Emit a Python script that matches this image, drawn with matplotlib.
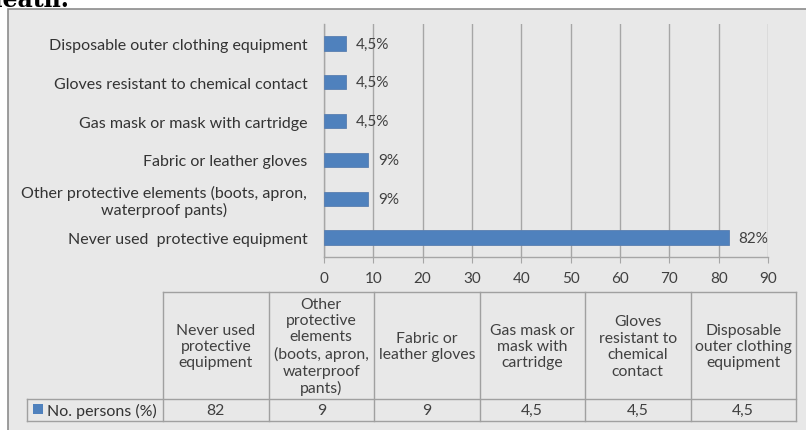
import matplotlib
matplotlib.use("Agg")
import matplotlib.pyplot as plt
from matplotlib.patches import Rectangle
from matplotlib.lines import Line2D

plt.rcParams['font.family'] = ['Lato', 'DejaVu Sans']

# ---- data ----
categories = ["Never used  protective equipment",
              "Other protective elements (boots, apron,\nwaterproof pants)",
              "Fabric or leather gloves",
              "Gas mask or mask with cartridge",
              "Gloves resistant to chemical contact",
              "Disposable outer clothing equipment"]
table_headers = ["Never used\nprotective\nequipment",
                 "Other\nprotective\nelements\n(boots, apron,\nwaterproof\npants)",
                 "Fabric or\nleather gloves",
                 "Gas mask or\nmask with\ncartridge",
                 "Gloves\nresistant to\nchemical\ncontact",
                 "Disposable\nouter clothing\nequipment"]
values = [82, 9, 9, 4.5, 4.5, 4.5]
series_name = "No. persons (%)"
x_ticks = [0, 10, 20, 30, 40, 50, 60, 70, 80, 90]

BAR = "#4f81bd"
BG = "#e8e8e8"
GRID = "#a6a6a6"
TXT = "#404040"
W, H = 806, 431

def fmt(v):
    return ("%g" % v).replace(".", ",")

fig = plt.figure(figsize=(W / 100, H / 100), dpi=100)
fig.patch.set_facecolor("white")

def fx(px):
    return px / W

def fy(py):
    return 1 - py / H

# chart frame
fig.patches.append(Rectangle((fx(8), fy(440)), fx(820) - fx(8), fy(10) - fy(440),
                             transform=fig.transFigure, facecolor=BG,
                             edgecolor="#8c8c8c", linewidth=1.2, zorder=-5))
# cropped caption text from page above
fig.text(fx(-14), fy(0), "death.", family="DejaVu Serif", fontsize=17,
         fontweight="bold", va="center", ha="left", color="black", zorder=-4)

# ---- bar axes ----
ax = fig.add_axes([fx(324), fy(258), fx(768) - fx(324), fy(25) - fy(258)])
ax.set_zorder(2)
ax.set_facecolor(BG)
ypos = list(range(len(categories)))
ax.barh(ypos, values, height=0.37, color=BAR, edgecolor="#5a7fb0", linewidth=0.6, zorder=3)
for y, v in zip(ypos, values):
    ax.text(v + 2.0, y, fmt(v) + "%", va="center", ha="left", fontsize=11, color=TXT, zorder=4)
ax.set_xlim(0, 90)
ax.set_ylim(-0.5, len(categories) - 0.5)
ax.set_xticks(x_ticks)
ax.set_xticklabels([str(t) for t in x_ticks], fontsize=11, color=TXT)
ax.set_yticks(ypos)
ax.set_yticklabels(categories, fontsize=11.5, color="#333333", multialignment="center",
                   linespacing=1.1)
ax.tick_params(axis="y", length=0, pad=12)
ax.tick_params(axis="x", length=4, color=GRID, pad=6)
ax.grid(axis="x", color=GRID, linewidth=1.0, zorder=0)
for s in ["top", "right"]:
    ax.spines[s].set_visible(False)
for s in ["left", "bottom"]:
    ax.spines[s].set_color(GRID)
    ax.spines[s].set_linewidth(1.0)

# ---- data table ----
col_edges = [163, 268.5, 374, 479.5, 585, 690.5, 796]
top, mid, bot = 293, 400, 422
leg_left = 27
lc = "#a0a0a0"

def hline(x0, x1, y):
    fig.add_artist(Line2D([fx(x0), fx(x1)], [fy(y), fy(y)], transform=fig.transFigure,
                          color=lc, linewidth=1.0))

def vline(x, y0, y1):
    fig.add_artist(Line2D([fx(x), fx(x)], [fy(y0), fy(y1)], transform=fig.transFigure,
                          color=lc, linewidth=1.0))

hline(col_edges[0], col_edges[-1], top)
hline(leg_left, col_edges[-1], mid)
hline(leg_left, col_edges[-1], bot)
for x in col_edges:
    vline(x, top, bot)
vline(leg_left, mid, bot)

for i, (hdr, v) in enumerate(zip(table_headers, values)):
    cx = (col_edges[i] + col_edges[i + 1]) / 2
    fig.text(fx(cx), fy((top + mid) / 2 + 0.5), hdr, ha="center", va="center",
             fontsize=11.3, color=TXT, linespacing=1.22, multialignment="center")
    fig.text(fx(cx), fy((mid + bot) / 2), fmt(v), ha="center", va="center",
             fontsize=11.3, color=TXT)

# legend key in table
fig.patches.append(Rectangle((fx(33), fy(415)), fx(10), fy(405) - fy(415),
                             transform=fig.transFigure, facecolor=BAR, edgecolor="none"))
fig.text(fx(47), fy((mid + bot) / 2), series_name, ha="left", va="center",
         fontsize=11.5, color="#333333")

fig.savefig("out.png", dpi=100, facecolor="white")
